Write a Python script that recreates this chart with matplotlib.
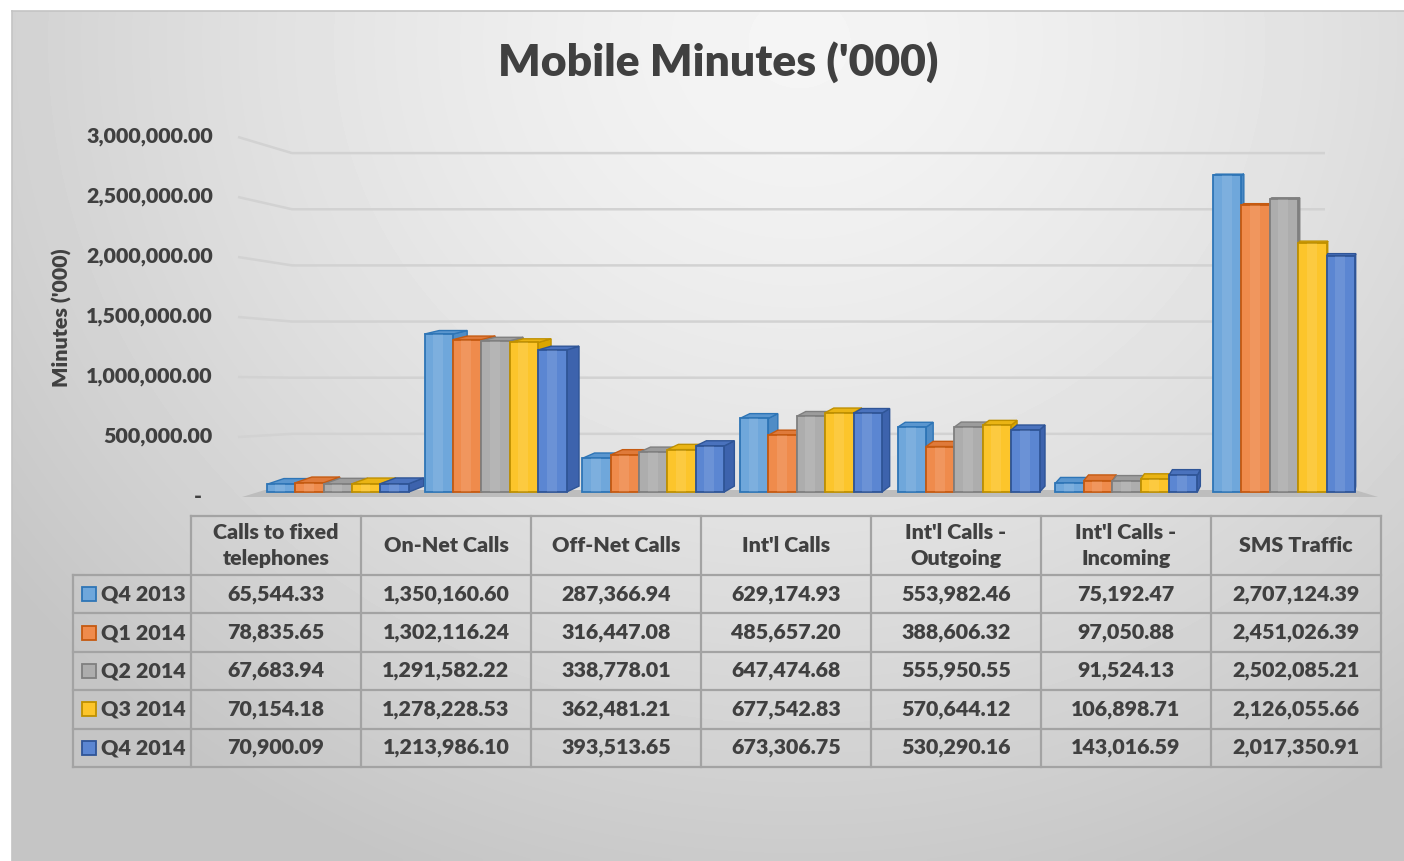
import numpy as np
import matplotlib
matplotlib.use("Agg")
import matplotlib.pyplot as plt
from matplotlib.patches import Polygon, Rectangle
from matplotlib.lines import Line2D

plt.rcParams['font.family'] = ['Lato', 'DejaVu Sans']

# ---------------- data ----------------
categories = ["Calls to fixed\ntelephones", "On-Net Calls", "Off-Net Calls", "Int'l Calls",
              "Int'l Calls -\nOutgoing", "Int'l Calls -\nIncoming", "SMS Traffic"]
series_names = ["Q4 2013", "Q1 2014", "Q2 2014", "Q3 2014", "Q4 2014"]
q4_2013 = [65544.33, 1350160.60, 287366.94, 629174.93, 553982.46, 75192.47, 2707124.39]
q1_2014 = [78835.65, 1302116.24, 316447.08, 485657.20, 388606.32, 97050.88, 2451026.39]
q2_2014 = [67683.94, 1291582.22, 338778.01, 647474.68, 555950.55, 91524.13, 2502085.21]
q3_2014 = [70154.18, 1278228.53, 362481.21, 677542.83, 570644.12, 106898.71, 2126055.66]
q4_2014 = [70900.09, 1213986.10, 393513.65, 673306.75, 530290.16, 143016.59, 2017350.91]
series = [q4_2013, q1_2014, q2_2014, q3_2014, q4_2014]
y_ticks = [0, 500000, 1000000, 1500000, 2000000, 2500000, 3000000]

# ---------------- style ----------------
front_cols = ['#6fa7db', '#ef8b4c', '#adadad', '#fcc52b', '#5b86d2']
edge_cols = ['#2e75b6', '#c55a11', '#7f7f7f', '#bf9000', '#2f5597']
side_cols = ['#4f8cc6', '#cf6a2c', '#8e8e8e', '#dba600', '#3d63ad']
top_cols = ['#5a96cf', '#df7a3a', '#9c9c9c', '#eab414', '#4a72bd']
txt_col = '#404040'
FW = 'heavy'
FS = 15.4
W, H = 1404, 861

fig = plt.figure(figsize=(W / 100, H / 100), dpi=100)
fig.patch.set_facecolor('white')

def fx(x):
    return x / W

def fy(y):
    return 1 - y / H

# background radial gradient
bg = fig.add_axes([fx(12), 0, fx(W - 12), fy(11)], zorder=-10)
gx, gy = np.meshgrid(np.linspace(12, W, 300), np.linspace(11, H, 200))
r = np.sqrt((gx - 800) ** 2 + ((gy - 40) * 1.1) ** 2)
t = np.clip(r / 1000.0, 0, 1) ** 1.4
shade = 0.96 - t * (0.96 - 0.77)
bg.imshow(shade, cmap='gray', vmin=0, vmax=1, aspect='auto', extent=[0, 1, 0, 1],
          interpolation='bilinear', origin='upper')
bg.set_xlim(0, 1); bg.set_ylim(0, 1)
bg.axis('off')
fig.add_artist(Line2D([fx(12), fx(12)], [0, fy(11)], color='#c4c4c4', lw=1.2))
fig.add_artist(Line2D([fx(12), 1], [fy(11), fy(11)], color='#c4c4c4', lw=1.2))

# ---------------- main plot axes ----------------
PX_L, PX_UNIT = 259, 157.7      # x pixel of xlim left, pixels per category
Y0, Y_SCALE = 492, 117e-6       # pixel of value 0, pixels per unit value
ax = fig.add_axes([fx(PX_L), fy(Y0), 7 * PX_UNIT / W, 3e6 * Y_SCALE / H])
ax.set_xlim(-0.5, 6.5)
ax.set_ylim(0, 3e6)
ax.axis('off')
ax.patch.set_alpha(0)

def dx_(xp):
    return (xp - PX_L) / PX_UNIT - 0.5

def dy_(yp):
    return (Y0 - yp) / Y_SCALE

def label_plane(v):
    return dy_(497 - 120e-6 * v)

def back_wall(v):
    return dy_(490 - 112.3e-6 * v)

# floor
floor = Polygon([(dx_(242), dy_(497)), (dx_(1378), dy_(497)), (dx_(1355), dy_(490)),
                 (dx_(265), dy_(490))], closed=True, facecolor='#bdbdbd',
                edgecolor='none', zorder=1, clip_on=False)
ax.add_patch(floor)

# gridlines + tick labels
for tv in y_ticks:
    if tv > 0:
        ax.plot([dx_(238), dx_(292), dx_(1325)], [label_plane(tv), back_wall(tv), back_wall(tv)],
                color='#d2d2d2', lw=1.8, zorder=0.5, clip_on=False, solid_capstyle='butt')
        lab = f"{tv:,.2f}"
        ax.text(dx_(213), label_plane(tv), lab, ha='right', va='center', fontsize=FS,
                fontweight=FW, color=txt_col)
    else:
        ax.text(dx_(202), label_plane(tv), '-', ha='right', va='center', fontsize=FS,
                fontweight=FW, color=txt_col)

ax.text(dx_(62), dy_(318), "Minutes ('000)", rotation=90, ha='center', va='center',
        fontsize=FS, fontweight=FW, color=txt_col)

# bars with simple perspective
VPX, VPY, S = dx_(1400), dy_(100), 0.985
BW = 0.18

def back(p):
    return (VPX + S * (p[0] - VPX), VPY + S * (p[1] - VPY))

bars = []
for j, vals in enumerate(series):
    for i, v in enumerate(vals):
        x0 = i - 0.45 + j * BW
        bars.append((x0, v, j))
bars.sort(key=lambda b: b[0])
z = 2
for x0, v, j in bars:
    x1 = x0 + BW
    fl, fr, tl, tr = (x0, 0), (x1, 0), (x0, v), (x1, v)
    bfl, bfr, btl, btr = back(fl), back(fr), back(tl), back(tr)
    side = Polygon([fr, tr, btr, bfr], closed=True, facecolor=side_cols[j],
                   edgecolor=edge_cols[j], lw=1.0, zorder=z, clip_on=False)
    ax.add_patch(side)
    if btl[1] > v:
        top = Polygon([tl, tr, btr, btl], closed=True, facecolor=top_cols[j],
                      edgecolor=edge_cols[j], lw=1.0, zorder=z + 0.1, clip_on=False)
        ax.add_patch(top)
    ax.bar(x0, v, width=BW, align='edge', color=front_cols[j], edgecolor=edge_cols[j],
           lw=1.3, zorder=z + 0.2, clip_on=False)
    ax.bar(x0 + BW * 0.3, v, width=BW * 0.35, align='edge', color='white', alpha=0.10,
           lw=0, zorder=z + 0.3, clip_on=False)
    z += 1

# ---------------- title ----------------
fig.text(fx(718), fy(62), "Mobile Minutes ('000)", ha='center', va='center', fontsize=32,
         fontweight=FW, color=txt_col)

# ---------------- data table ----------------
tab = fig.add_axes([0, 0, 1, 1], zorder=5)
tab.set_xlim(0, W); tab.set_ylim(H, 0)
tab.axis('off')
tab.patch.set_alpha(0)
LBL_L, COL0, COL_W = 73, 191, 170
HDR_T, HDR_B, ROW_H = 516, 575, 38.4
ncol = len(categories)
nrow = len(series)
line_kw = dict(color='#a3a3a3', lw=1.6, solid_capstyle='projecting')
tab_bottom = HDR_B + ROW_H * nrow
tab.plot([COL0, COL0 + ncol * COL_W], [HDR_T, HDR_T], **line_kw)
for k in range(nrow + 1):
    yy = HDR_B + k * ROW_H
    tab.plot([LBL_L, COL0 + ncol * COL_W], [yy, yy], **line_kw)
for k in range(ncol + 1):
    xx = COL0 + k * COL_W
    tab.plot([xx, xx], [HDR_T, tab_bottom], **line_kw)
tab.plot([LBL_L, LBL_L], [HDR_B, tab_bottom], **line_kw)

for k, c in enumerate(categories):
    tab.text(COL0 + (k + 0.5) * COL_W, (HDR_T + HDR_B) / 2, c, ha='center', va='center',
             fontsize=FS, fontweight=FW, color=txt_col, linespacing=1.4)
for r_i, (name, vals) in enumerate(zip(series_names, series)):
    yc = HDR_B + (r_i + 0.5) * ROW_H
    tab.add_patch(Rectangle((82, yc - 7), 14, 14, facecolor=front_cols[r_i],
                            edgecolor=edge_cols[r_i], lw=1.3))
    tab.text(101, yc, name, ha='left', va='center', fontsize=FS, fontweight=FW,
             color=txt_col)
    for k, v in enumerate(vals):
        tab.text(COL0 + (k + 0.5) * COL_W, yc, f"{v:,.2f}", ha='center', va='center',
                 fontsize=FS, fontweight=FW, color=txt_col)

fig.savefig('out.png', dpi=100)
